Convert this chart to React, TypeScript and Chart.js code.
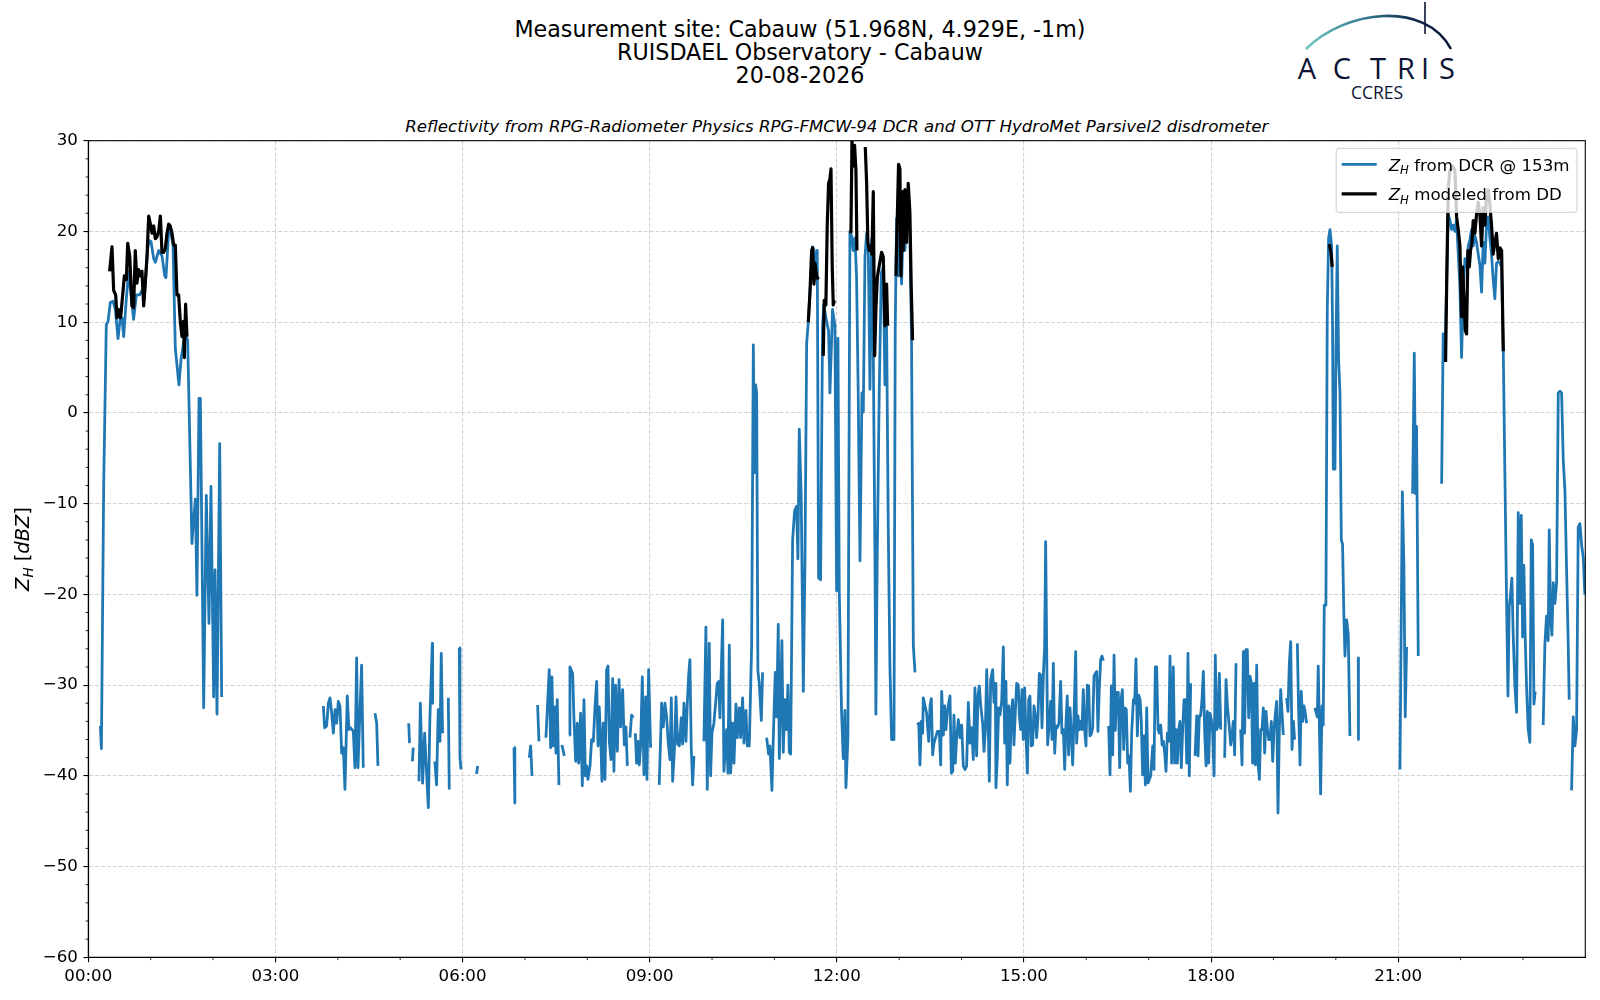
import { useEffect, useRef } from "react";
import { Chart, registerables, type Plugin } from "chart.js";

Chart.register(...registerables);

// [minute of day, dBZ]; null breaks the line
type Pt = [number, number | null];

const dcrMorning: Pt[] = [
  [11.6, -34.5], [12.6, -37.0], [14.8, -8.0], [17.3, 9.7], [19.0, 10.1], [21.2, 12.2], [23.8, 12.3],
  [26.0, 11.4], [28.6, 8.2], [30.8, 10.5], [32.4, 10.5], [34.0, 8.4], [36.6, 12.6], [38.8, 15.6],
  [41.1, 13.0], [43.6, 10.3], [46.2, 13.0], [49.4, 13.0], [51.6, 13.5], [53.9, 12.6], [57.1, 18.1],
  [58.6, 19.0], [60.3, 18.9], [62.9, 17.0], [64.5, 16.6], [67.7, 17.9], [70.9, 17.3], [73.5, 15.1],
  [74.7, 14.9], [77.3, 20.0], [78.9, 20.2], [81.5, 18.5], [83.7, 7.1], [87.2, 3.1], [89.2, 5.9],
  [91.7, 7.8], [94.3, 8.4], [95.6, 8.0], [99.7, -14.4], [100.7, -12.7], [103.0, -9.5], [104.5, -20.1],
  [106.5, 1.6], [107.8, 1.6], [111.0, -32.5], [113.5, -9.1], [116.1, -23.2], [118.0, -8.1],
  [120.6, -31.3], [121.9, -17.3], [123.8, -33.2], [126.4, -3.4], [128.3, -31.3],
];

const dcrNight: Pt[] = [
  [226.1, -32.3], [227.3, -34.7], [229.3, -34.5], [230.9, -32.0], [232.5, -31.4], [234.1, -33.1],
  [235.7, -35.3], [237.3, -32.7], [238.9, -34.2], [240.5, -31.8], [242.1, -32.3], [243.7, -37.5],
  [245.3, -36.9], [246.9, -41.5], [249.1, -31.2], [250.7, -34.9], [252.3, -34.7], [254.9, -35.1],
  [256.5, -39.1], [258.1, -27.0], [259.4, -39.1], [262.9, -27.8], [264.5, -39.1], [270, null],
  [275.8, -33.1], [277.4, -34.2], [278.6, -38.9], [290, null],
  [308.2, -34.2], [309.0, -36.4], [310, null],
  [311.7, -38.4], [312.6, -36.9], [315, null],
  [318.1, -40.6], [319.4, -32.0], [321.6, -40.8], [323.5, -35.3], [327.1, -43.5], [328.6, -33.6],
  [330.9, -25.4], [331.2, -32.0], [332, null],
  [333.4, -38.4], [335.0, -41.0], [336.6, -32.7], [338.3, -36.2], [339.5, -26.5], [340.8, -35.3], [343, null],
  [346.3, -31.4], [347.2, -41.5], [350, null],
  [356.9, -25.9], [357.5, -38.0], [358.5, -39.3], [365, null],
  [373.5, -39.8], [374.5, -38.9], [390, null],
  [409.5, -36.9], [410.3, -43.0], [415, null],
  [424.2, -38.0], [425.5, -36.7], [426.8, -40.0], [429, null],
  [432.2, -32.2], [433.5, -36.2],
];

const dcrForenoon: Pt[] = [
  [440.2, -35.8], [441.5, -32.7], [443.4, -28.3], [444.7, -36.9], [446.0, -29.1], [447.3, -36.7],
  [448.6, -32.4], [449.9, -37.5], [451.1, -31.6], [452.7, -41.0], [454, null],
  [455.6, -36.6], [457.9, -37.8], [460, null],
  [462.4, -35.5], [463.3, -28.0], [465.9, -28.7], [467.2, -33.8], [468.8, -38.4], [470.4, -34.2],
  [471.7, -38.6], [473.6, -33.1], [475.2, -41.1], [476.8, -31.6], [478.1, -40.0], [479.4, -38.9],
  [480.6, -40.4], [482.6, -38.9], [484.2, -36.0], [485.8, -36.2], [487.4, -32.4], [489.0, -29.6],
  [490.3, -36.7], [491.5, -32.4], [493.1, -36.5], [494.1, -40.6], [495.4, -34.2], [497.0, -40.4],
  [498.6, -28.3], [499.9, -27.9], [501.2, -36.2], [502.8, -38.2], [504.4, -29.3], [505.6, -39.5],
  [507.2, -30.0], [508.9, -37.3], [510.5, -29.4], [512.1, -34.6], [514.0, -30.5], [515.6, -36.6],
  [517.2, -34.6], [518.5, -38.9], [520, null],
  [521.0, -35.8], [522.6, -33.3], [524.2, -33.6], [525, null],
  [526.2, -35.3], [527.4, -38.6], [529.0, -36.2], [530.0, -38.8], [531.3, -36.7], [532.9, -29.1],
  [534.5, -39.9], [536.1, -31.3], [537.4, -40.4], [539.0, -28.3], [540.9, -36.9], [545, null],
  [549.2, -41.0], [551.5, -32.0], [553.1, -34.6], [554.7, -32.0], [556.3, -33.5], [557.9, -36.4],
  [559.5, -38.2], [560.8, -31.4], [562.1, -40.6], [564.0, -36.7], [565.3, -31.3], [566.9, -36.5],
  [568.5, -36.7], [570.4, -33.6], [571.7, -36.5], [573.0, -32.0], [574.9, -36.2], [576.2, -32.0],
  [577.5, -28.9], [578.7, -27.2], [580.0, -36.9], [581.3, -41.0], [582.6, -37.8], [587, null],
  [592.2, -36.2], [594.1, -23.6], [595.4, -41.5], [597.3, -25.4], [598.6, -40.0], [599.9, -35.3],
  [601.8, -34.2], [603.7, -31.6], [605.0, -29.8], [606.3, -29.6], [607.6, -33.6], [610.2, -22.8],
  [611.4, -39.5], [614.0, -34.9], [615.3, -39.7], [616.6, -25.6], [617.9, -39.7], [619.8, -34.2],
  [621.1, -38.6], [623.0, -32.1], [624.3, -35.8], [626.2, -32.5], [627.5, -35.8], [629.4, -31.4],
  [630.7, -36.4], [632.6, -32.8], [633.9, -36.7], [635.8, -36.7], [638.1, -25.6], [639.7, 7.5],
  [640.9, -6.6], [641.9, 3.1], [642.9, 2.2], [644.1, -28.4], [645.4, -29.8], [647.4, -33.9],
  [648.6, -28.6], [650, null],
  [652.5, -35.8], [654.4, -37.6], [655.7, -36.7], [657.6, -41.6], [659.5, -33.5], [660.8, -28.6],
  [662.1, -33.5], [663.7, -23.3], [664.7, -38.1], [667.2, -25.1], [668.5, -37.4], [670.1, -31.6],
  [671.7, -34.9], [673.0, -30.0], [674.3, -37.4], [675.6, -37.6], [677.5, -14.0], [679.4, -10.8],
  [681.3, -10.3], [682.6, -16.1], [683.9, -1.8], [685.8, -9.4], [687.8, -30.7], [689.4, -16.3],
  [691.0, 7.7], [692.9, 10.5], [694.8, 14.7], [696.7, 18.3], [698.3, 17.9], [699.9, 14.7],
  [701.2, 17.9], [702.5, -18.2], [704.4, -18.4], [706.3, 9.6], [707.6, 11.9], [709.5, 10.5],
  [712.1, 9.0], [713.4, 2.2], [715.9, 11.4], [718.2, 9.6], [719.8, -19.6], [721.1, 8.2],
  [722.4, -19.8], [724.6, -33.0], [726.2, -38.1], [727.8, -32.8], [728.8, -41.3], [730.7, -35.8],
  [732.6, 20.0], [734.2, 19.5], [735.8, 17.9], [737.4, 19.3], [739.0, 15.1], [740.6, 2.2],
  [742.3, -16.3], [744.2, 2.2], [745.5, 0.1], [747.1, 17.2], [748.7, 19.8], [750.3, 18.0],
  [751.9, 2.6], [753.5, 19.1], [755.1, 6.8], [756.7, -15.9], [757.6, -33.2], [758.9, -15.9],
  [760.8, 2.2], [762.8, 15.4], [764.7, 16.1], [766.3, 3.1], [767.9, 9.6], [769.5, -12.6],
  [771.1, -27.9], [772.7, -36.0], [775.0, -36.0], [776.2, 9.1], [777.5, 21.4], [779.1, 15.1],
  [780.7, 20.7], [782.3, 14.2], [783.9, 20.9], [785.5, 17.9], [787.1, 20.7], [788.7, 21.9],
  [790.3, 20.0], [791.9, 7.7], [793.6, -25.6], [795.2, -28.6],
];

const dcrAfternoon: Pt[] = [
  [797.5, -34.4], [798.8, -34.2], [800.0, -38.8], [801.3, -34.0], [802.6, -35.3], [803.2, -31.4],
  [806.4, -33.1], [808.4, -36.2], [809.7, -32.3], [810.9, -31.5], [812.2, -37.7], [813.5, -36.4],
  [816.8, -35.1], [818.6, -35.1], [819.9, -38.8], [820.9, -30.7], [822.5, -35.5], [823.8, -32.3],
  [825.0, -34.9], [826.3, -33.1], [827.6, -32.0], [828.9, -31.2], [830.2, -39.7], [831.5, -39.5],
  [832.7, -33.3], [834.0, -38.6], [835.3, -35.8], [836.9, -33.8], [838.5, -35.8], [840.1, -34.4],
  [841.7, -38.9], [843.3, -39.3], [844.9, -38.9], [846.5, -31.9], [848.1, -36.4], [849.7, -34.7],
  [851.3, -38.2], [852.9, -30.3], [854.5, -37.8], [855.8, -31.2], [857.1, -30.1], [858.4, -32.2],
  [860.3, -34.2], [861.6, -37.3], [862.9, -34.9], [864.2, -28.3], [865.8, -35.3], [866.7, -40.6],
  [868.0, -29.4], [869.9, -28.3], [871.2, -31.9], [872.5, -29.8], [873.1, -41.3], [874.4, -37.8],
  [875.7, -32.5], [877.0, -33.3], [878.6, -31.8], [880.2, -25.8], [881.5, -36.4], [882.7, -29.6],
  [884.0, -41.0], [885.3, -32.3], [886.6, -38.6], [887.9, -32.9], [889.2, -31.6], [890.4, -36.6],
  [891.7, -33.1], [893.0, -29.8], [894.6, -30.0], [895.6, -33.4], [896.9, -34.9], [898.1, -30.5],
  [899.4, -36.0], [900.7, -30.3], [902.0, -35.6], [903.3, -39.7], [904.6, -31.6], [905.8, -31.2],
  [907.1, -36.7], [908.4, -36.6], [909.7, -32.3], [911.0, -33.4], [912.2, -35.8], [913.5, -33.6],
  [914.8, -28.7], [916.1, -28.9], [917.4, -34.7], [918.7, -28.9], [919.9, -25.8], [920.9, -14.2],
  [921.9, -26.1], [922.8, -36.6], [924.1, -34.5], [925.7, -31.8], [927.0, -36.0], [928.3, -27.6],
  [929.6, -37.5], [930.8, -34.5], [932.1, -34.7], [933.7, -34.2], [935.3, -29.6], [936.6, -35.3],
  [937.9, -34.9], [939.2, -39.3], [940.5, -34.0], [941.7, -31.2], [943.0, -37.7], [944.3, -32.5],
  [945.6, -35.3], [946.9, -38.8], [948.2, -33.4], [949.8, -26.3], [950.7, -36.4], [952.0, -33.4],
  [953.3, -34.9], [954.6, -34.0], [955.8, -34.9], [957.1, -30.5], [958.4, -34.9], [959.7, -36.7],
  [961.0, -30.0], [962.3, -30.1], [963.5, -35.6], [964.8, -35.4], [966.1, -34.7], [967.4, -29.0],
  [968.7, -28.7], [970.0, -28.5], [971.2, -35.1], [972.5, -30.5], [973.8, -27.2], [975.1, -26.8],
  [976.4, -27.3], [979, null],
  [981.5, -34.5], [982.8, -39.9], [984.1, -30.1], [985.4, -37.7], [986.7, -26.7], [987.9, -35.0],
  [989.2, -30.8], [990.8, -30.8], [992.1, -39.1], [993.4, -31.6], [994.7, -30.5], [996.0, -37.1],
  [997.2, -32.5], [998.5, -32.7], [999.8, -38.6], [1001.1, -37.8], [1002.4, -41.7], [1003.7, -35.1],
  [1005.3, -31.6], [1006.5, -32.0], [1007.8, -27.1], [1009.1, -35.6], [1010.4, -31.1], [1011.7, -31.6],
  [1012.9, -34.0], [1014.2, -39.9], [1015.5, -35.6], [1016.8, -41.0], [1018.1, -32.5], [1019.4, -40.8],
  [1020.7, -40.4], [1021.9, -40.0], [1023.9, -36.7], [1025.1, -39.3], [1026.4, -28.0], [1027.7, -28.0],
  [1029.0, -34.9], [1030.3, -35.3], [1031.6, -34.4], [1032.9, -36.6], [1034.2, -36.2], [1035.4, -37.5],
  [1036.7, -39.5], [1038.0, -35.3], [1039.3, -36.2], [1040.5, -26.8], [1042.1, -38.6], [1043.7, -28.0],
  [1045.0, -38.6], [1046.3, -34.9], [1047.6, -38.6], [1048.9, -34.9], [1050.1, -34.0], [1051.4, -39.1],
  [1052.7, -34.9], [1054.0, -31.6], [1055.3, -31.6], [1056.6, -38.6], [1057.8, -26.5], [1059.1, -40.0],
  [1060.4, -29.8], [1062, null],
  [1064.6, -37.8], [1066.2, -33.4], [1067.5, -37.8], [1068.7, -33.4], [1070.0, -33.4], [1071.3, -31.6],
  [1072.6, -28.5], [1073.9, -35.3], [1075.2, -38.9], [1076.4, -32.9], [1077.7, -38.6], [1079.0, -33.1],
  [1080.3, -33.8], [1081.6, -35.3], [1082.9, -40.0], [1084.1, -26.7], [1085.4, -34.9], [1086.7, -34.5],
  [1088.0, -28.7], [1089.3, -34.9], [1091, null],
  [1093.1, -38.0], [1094.4, -29.4], [1095.7, -32.2], [1097.6, -34.7], [1098.9, -36.6], [1100.3, -35.3],
  [1101.4, -34.0], [1102.7, -37.7], [1104.0, -27.6], [1106, null],
  [1108.5, -34.9], [1109.8, -38.8], [1111.1, -26.3], [1112.3, -35.3], [1113.6, -26.1], [1114.9, -26.1],
  [1116.2, -33.6], [1117.5, -29.0], [1118.8, -29.8], [1120.0, -38.6], [1121.3, -29.8], [1122.6, -38.8],
  [1123.9, -27.8], [1125.2, -38.6], [1126.5, -40.4], [1127.7, -34.9], [1129.0, -34.9], [1130.3, -32.5],
  [1131.6, -37.5], [1132.9, -32.9], [1134.2, -34.9], [1135.5, -36.0], [1136.7, -36.0], [1138.0, -34.0],
  [1139.3, -38.4], [1140.6, -34.9], [1141.9, -33.1], [1143.1, -31.8], [1144.4, -44.1], [1145.7, -34.9],
  [1147.0, -30.5], [1148.3, -33.1], [1149.5, -35.5], [1151, null],
  [1152.7, -31.4], [1154.0, -32.9], [1155.3, -27.6], [1156.6, -25.2], [1157.9, -37.1], [1159.2, -34.0],
  [1160.4, -36.0], [1162, null],
  [1163.0, -25.4], [1164.3, -33.1], [1165.6, -38.8], [1166.8, -30.7], [1168.1, -34.0], [1169.4, -32.3],
  [1170.3, -32.8], [1171.9, -34.2], [1176, null],
  [1179.9, -32.5], [1182.2, -33.5], [1183.1, -27.9], [1184.1, -33.9], [1185.4, -42.0], [1186.7, -32.3],
  [1187.9, -34.4], [1188.9, -21.2], [1190.5, -21.2], [1191.8, 11.4], [1193.1, 19.3], [1194.4, 20.2],
  [1196.0, 18.4], [1196.9, 9.1], [1197.6, -6.2], [1199.2, -6.2], [1200.1, 6.8], [1201.4, 18.4],
  [1202.7, 5.9], [1204.0, 2.2], [1205.3, -14.0], [1206.5, -14.5], [1207.8, -22.4], [1208.8, -26.8],
  [1210.4, -22.8], [1212.0, -24.4], [1213.6, -35.6], [1218, null],
  [1221.6, -27.0], [1221.8, -36.0],
];

const dcrEvening: Pt[] = [
  [1261.7, -39.3], [1264.0, -8.7], [1265.5, -16.8], [1266.8, -33.5], [1268.1, -25.8], [1271, null],
  [1273.9, -8.9], [1275.5, 6.6], [1276.7, -8.9], [1277.7, -1.5], [1279.3, -26.8], [1290, null],
  [1301.8, -7.8], [1303.3, 8.7], [1305.0, 5.9], [1306.6, 14.2], [1308.2, 21.9], [1309.8, 21.2],
  [1311.4, 20.2], [1313.0, 20.7], [1314.6, 20.0], [1316.2, 21.2], [1317.8, 17.5], [1319.4, 13.8],
  [1321.0, 6.1], [1322.6, 13.3], [1324.2, 17.0], [1325.8, 16.1], [1327.4, 18.4], [1329.0, 19.1],
  [1330.6, 20.2], [1332.2, 18.4], [1333.8, 19.5], [1335.4, 18.8], [1337.0, 17.5], [1338.6, 16.3],
  [1340.2, 13.3], [1341.8, 18.8], [1343.4, 16.5], [1345.0, 20.7], [1346.6, 21.6], [1348.2, 19.3],
  [1349.8, 17.5], [1351.4, 14.7], [1353.0, 12.6], [1354.6, 16.5], [1356.3, 16.7], [1357.9, 16.5],
  [1359.5, 16.1], [1361.1, 6.8], [1362.7, -7.1], [1364.3, -21.0], [1365.6, -31.2], [1366.8, -21.4],
  [1368.1, -20.0], [1369.4, -18.2], [1370.7, -24.7], [1372.3, -30.2], [1373.9, -33.0], [1375.5, -11.0],
  [1377.1, -21.0], [1378.4, -11.3], [1379.7, -24.7], [1380.9, -16.8], [1382.2, -24.7], [1383.5, -30.2],
  [1385.1, -34.9], [1386.7, -36.3], [1388.0, -14.0], [1389.3, -14.5], [1390.6, -32.1], [1391.8, -30.7],
  [1395, null],
  [1399.5, -34.4], [1401.1, -25.6], [1402.7, -22.4], [1404.3, -25.1], [1405.3, -12.9], [1406.6, -22.6],
  [1407.9, -24.5], [1409.2, -18.7], [1410.8, -21.0], [1412.4, -18.7], [1414.0, 2.2], [1415.6, 2.4],
  [1417.2, 2.2], [1418.8, -5.2], [1420.4, -8.5], [1422.0, -17.3], [1423.6, -25.6], [1424.5, -31.6],
  [1425.5, null],
  [1426.8, -41.6], [1428.4, -33.5], [1430.0, -36.7], [1431.6, -35.0], [1433.2, -12.6], [1434.8, -12.2],
  [1436.4, -14.5], [1438.0, -15.9], [1439.6, -20.0],
];

const ddMorning: Pt[] = [
  [20.5, 15.6], [22.8, 18.3], [24.4, 13.5], [26.3, 13.0], [27.6, 10.5], [29.2, 11.4], [30.8, 10.5],
  [31.5, 11.0], [34.7, 15.1], [36.6, 14.7], [37.9, 18.7], [39.8, 17.3], [42.0, 11.8], [43.6, 11.6],
  [45.2, 17.9], [46.8, 14.3], [48.4, 15.8], [50.0, 15.1], [51.6, 15.6], [53.3, 11.8], [54.9, 14.5],
  [56.5, 17.3], [58.1, 21.7], [59.7, 20.8], [61.3, 19.8], [62.9, 20.6], [64.5, 19.2], [66.1, 19.4],
  [67.7, 20.0], [69.3, 21.7], [70.9, 17.7], [72.5, 17.7], [74.1, 18.1], [75.7, 19.8], [77.3, 20.8],
  [78.9, 20.6], [80.5, 19.8], [82.1, 18.5], [83.7, 18.5], [85.3, 13.0], [86.9, 13.0], [88.5, 10.1],
  [90.1, 8.4], [91.7, 10.1], [92.4, 6.1], [93.6, 12.0], [94.9, 8.4],
];

const ddNoon: Pt[] = [
  [692.6, 10.0], [694.2, 13.3], [695.8, 17.9], [696.7, 18.2], [698.0, 14.2], [699.0, 16.5],
  [700.6, 15.1], [702.2, 14.7], [704, null],
  [707.0, 6.3], [707.9, 12.4], [709.5, 11.9], [710.8, 20.7], [712.1, 25.3], [713.4, 25.8],
  [714.4, 26.9], [715.6, 16.1], [716.6, 11.9], [717.6, 12.4], [725, null],
  [733.6, 19.8], [734.6, 30.0], [735.8, 27.2], [737.1, 29.5], [738.4, 26.7], [739.4, 17.9], [743, null],
  [747.4, 29.3], [748.7, 25.3], [749.9, 18.8], [751.2, 17.9], [752.5, 18.4], [753.8, 17.5],
  [755.1, 24.4], [756.4, 6.3], [757.6, 11.4], [759.0, 15.0], [763.1, 17.7], [764.7, 17.2],
  [766.3, 9.6], [767.9, 14.2], [768.9, 9.6], [772, null],
  [776.9, 15.1], [778.2, 21.6], [779.4, 27.4], [780.7, 26.9], [781.7, 15.1], [783.0, 24.4],
  [783.9, 17.9], [785.5, 24.6], [787.1, 18.8], [788.7, 25.3], [790.3, 22.1], [791.6, 13.8], [792.9, 8.0],
];

const ddEvening: Pt[] = [
  [1193.7, 18.6], [1195.3, 17.7], [1196.6, 16.1], [1250, null],
  [1305.6, 5.6], [1306.9, 16.1], [1308.2, 24.9], [1309.8, 26.7], [1312.3, 27.2], [1314.6, 26.7],
  [1316.2, 21.6], [1317.8, 20.2], [1319.4, 18.4], [1321.0, 10.6], [1322.0, 16.1], [1323.2, 12.8],
  [1324.5, 9.1], [1325.8, 8.7], [1327.1, 17.9], [1328.4, 16.1], [1329.6, 17.9], [1330.9, 18.8],
  [1332.2, 21.2], [1333.8, 19.8], [1335.4, 21.9], [1337.0, 23.2], [1338.6, 21.9], [1340.2, 18.4],
  [1341.8, 22.6], [1343.4, 20.7], [1345.0, 23.9], [1346.6, 24.6], [1348.2, 23.0], [1349.8, 20.7],
  [1351.4, 17.5], [1353.0, 18.8], [1354.6, 19.8], [1356.3, 17.0], [1357.9, 18.2], [1359.5, 17.9],
  [1361.1, 6.8],
];

const xMajorTicks = [0, 180, 360, 540, 720, 900, 1080, 1260];
const xMinorTicks = [60, 120, 240, 300, 420, 480, 600, 660, 780, 840, 960, 1020, 1140, 1200, 1320, 1380];
const yMajorTicks = [-60, -50, -40, -30, -20, -10, 0, 10, 20, 30];
const yMinorTicks = [
  -58, -56, -54, -52, -48, -46, -44, -42, -38, -36, -34, -32, -28, -26, -24, -22, -18, -16,
  -14, -12, -8, -6, -4, -2, 2, 4, 6, 8, 12, 14, 16, 18, 22, 24, 26, 28,
];

const titleLines = [
  "Measurement site: Cabauw (51.968N, 4.929E, -1m)",
  "RUISDAEL Observatory - Cabauw",
  "20-08-2026",
];
const subtitle =
  "Reflectivity from RPG-Radiometer Physics RPG-FMCW-94 DCR and OTT HydroMet Parsivel2 disdrometer";
const legendLabels = [" from DCR @ 153m", " modeled from DD"];
const logoLetters: [string, number][] = [
  ["A", 1307], ["C", 1342], ["T", 1378], ["R", 1406], ["I", 1425], ["S", 1447],
];

const BLUE = "#1f77b4";
const FONT = '"DejaVu Sans"';

function joinSegments(...segs: Pt[][]) {
  const out: { x: number; y: number | null }[] = [];
  segs.forEach((s, i) => {
    if (i > 0) out.push({ x: s[0][0] - 0.3, y: null });
    s.forEach(([x, y]) => out.push({ x, y }));
  });
  return out;
}

const hhmm = (v: number) =>
  `${String(Math.floor(v / 60)).padStart(2, "0")}:${String(Math.round(v % 60)).padStart(2, "0")}`;

type Run = { t: string; it?: boolean; sub?: boolean };

// draws text runs with italic / subscript pieces (mathtext-like)
function drawRuns(ctx: CanvasRenderingContext2D, runs: Run[], x: number, y: number, size: number, measureOnly = false) {
  let cx = x;
  for (const r of runs) {
    const s = r.sub ? size * 0.7 : size;
    ctx.font = `${r.it ? "italic " : ""}${s}px ${FONT}`;
    if (!measureOnly) ctx.fillText(r.t, cx, r.sub ? y + size * 0.22 : y);
    cx += ctx.measureText(r.t).width;
  }
  return cx - x;
}

const framePlugin: Plugin<"line"> = {
  id: "mplFrame",
  afterDatasetsDraw(chart) {
    const { ctx, chartArea: a } = chart;
    const xs = chart.scales.x;
    const ys = chart.scales.y;
    ctx.save();
    ctx.strokeStyle = "#000";
    ctx.lineWidth = 0.83;
    ctx.beginPath();
    xMinorTicks.forEach((m) => {
      const px = xs.getPixelForValue(m);
      ctx.moveTo(px, a.bottom);
      ctx.lineTo(px, a.bottom + 2.78);
    });
    yMinorTicks.forEach((v) => {
      const py = ys.getPixelForValue(v);
      ctx.moveTo(a.left, py);
      ctx.lineTo(a.left - 2.78, py);
    });
    ctx.stroke();
    ctx.lineWidth = 1.1;
    ctx.strokeRect(a.left, a.top, a.right - a.left, a.bottom - a.top);

    // legend
    const fs = 16.67;
    const rows: Run[][] = legendLabels.map((l) => [{ t: "Z", it: true }, { t: "H", it: true, sub: true }, { t: l }]);
    const textW = Math.max(...rows.map((r) => drawRuns(ctx, r, 0, 0, fs, true)));
    const bw = 6.7 + 33.3 + 13.3 + textW + 6.7;
    const bh = 64;
    const bx = a.right - 8.3 - bw;
    const by = a.top + 7.7;
    ctx.beginPath();
    ctx.roundRect(bx, by, bw, bh, 3.3);
    ctx.fillStyle = "rgba(255,255,255,0.8)";
    ctx.fill();
    ctx.strokeStyle = "rgba(204,204,204,0.8)";
    ctx.lineWidth = 1.2;
    ctx.stroke();
    const colors = [BLUE, "#000"];
    rows.forEach((r, i) => {
      const cy = by + 16 + i * 29.5;
      ctx.beginPath();
      ctx.strokeStyle = colors[i];
      ctx.lineWidth = i === 0 ? 2.78 : 3.2;
      ctx.moveTo(bx + 5.5, cy);
      ctx.lineTo(bx + 5.5 + 35, cy);
      ctx.stroke();
      ctx.fillStyle = "#000";
      ctx.textBaseline = "alphabetic";
      drawRuns(ctx, r, bx + 52.5, cy + 6.4, fs);
    });

    // y axis label
    const yl: Run[] = [{ t: "Z", it: true }, { t: "H", it: true, sub: true }, { t: " [" }, { t: "dBZ", it: true }, { t: "]" }];
    const ls = 19.44;
    const lw = drawRuns(ctx, yl, 0, 0, ls, true);
    ctx.translate(29, (a.top + a.bottom) / 2);
    ctx.rotate(-Math.PI / 2);
    ctx.fillStyle = "#000";
    drawRuns(ctx, yl, -lw / 2, 0, ls);
    ctx.restore();
  },
};

export default function App() {
  const ref = useRef<HTMLCanvasElement>(null);

  useEffect(() => {
    if (!ref.current) return;
    const tickFont = { family: FONT, size: 16.67 };
    const grid = {
      color: "#d3d3d3",
      lineWidth: 1.1,
      tickLength: 4.86,
      tickColor: "#000",
      tickWidth: 1.1,
      tickBorderDash: [],
    };
    const border = { display: true, color: "#000", width: 1.1, dash: [4.1, 1.8] };
    const chart = new Chart(ref.current, {
      type: "line",
      data: {
        datasets: [
          {
            label: "DCR",
            data: joinSegments(dcrMorning, dcrNight, dcrForenoon, dcrAfternoon, dcrEvening),
            borderColor: BLUE,
            borderWidth: 2.78,
            borderJoinStyle: "round",
            pointRadius: 0,
            tension: 0,
            spanGaps: false,
            clip: 0,
            order: 2,
          },
          {
            label: "DD",
            data: joinSegments(ddMorning, ddNoon, ddEvening),
            borderColor: "#000",
            borderWidth: 3.2,
            borderJoinStyle: "round",
            pointRadius: 0,
            tension: 0,
            spanGaps: false,
            clip: 0,
            order: 1,
          },
        ],
      },
      options: {
        responsive: true,
        maintainAspectRatio: false,
        animation: false,
        events: [],
        layout: { padding: { left: 0, top: 140.7, right: 14.7, bottom: 0 } },
        plugins: { legend: { display: false }, tooltip: { enabled: false } },
        scales: {
          x: {
            type: "linear",
            min: 0,
            max: 1440,
            afterBuildTicks: (s) => {
              s.ticks = xMajorTicks.map((value) => ({ value }));
            },
            afterFit: (s) => {
              s.height = 42.7;
            },
            grid,
            border,
            ticks: {
              color: "#000",
              font: tickFont,
              padding: 5,
              maxRotation: 0,
              autoSkip: false,
              callback: (v) => hhmm(Number(v)),
            },
          },
          y: {
            type: "linear",
            min: -60,
            max: 30,
            afterBuildTicks: (s) => {
              s.ticks = yMajorTicks.map((value) => ({ value }));
            },
            afterFit: (s) => {
              s.width = 88.3;
            },
            grid,
            border,
            ticks: {
              color: "#000",
              font: tickFont,
              padding: 5.5,
              autoSkip: false,
              callback: (v) => {
                const n = Number(v);
                return n < 0 ? "\u2212" + Math.abs(n) : String(n);
              },
            },
          },
        },
      },
      plugins: [framePlugin],
    });
    return () => {
      chart.destroy();
    };
  }, []);

  return (
    <div style={{ position: "absolute", left: 0, top: 0, width: 1600, height: 1000, background: "#fff" }}>
      <div
        style={{
          position: "absolute",
          left: 0,
          top: 17.5,
          width: 1600,
          textAlign: "center",
          font: `22.2px/23px ${FONT}`,
          color: "#000",
          whiteSpace: "nowrap",
        }}
      >
        {titleLines.map((l) => (
          <div key={l}>{l}</div>
        ))}
      </div>
      <div
        style={{
          position: "absolute",
          left: 88.3,
          top: 116.5,
          width: 1497,
          textAlign: "center",
          font: `italic 16.67px/20px ${FONT}`,
          color: "#000",
          whiteSpace: "nowrap",
        }}
      >
        {subtitle}
      </div>
      <svg
        width={220}
        height={110}
        viewBox="1280 0 220 110"
        style={{ position: "absolute", left: 1280, top: 0 }}
      >
        <defs>
          <linearGradient id="arcGrad" gradientUnits="userSpaceOnUse" x1={1306} y1={0} x2={1451} y2={0}>
            <stop offset="0" stopColor="#72c6c1" />
            <stop offset="0.45" stopColor="#2a6f86" />
            <stop offset="0.75" stopColor="#12284f" />
            <stop offset="1" stopColor="#0b1435" />
          </linearGradient>
        </defs>
        <path d="M1306 49 C1345 10 1425 0 1451 49" stroke="url(#arcGrad)" strokeWidth={2.6} fill="none" />
        <line x1={1425} y1={2} x2={1425} y2={34} stroke="#0b1435" strokeWidth={1.6} />
        {logoLetters.map(([ch, x]) => (
          <text
            key={ch + x}
            x={x}
            y={78.5}
            textAnchor="middle"
            fill="#0b1435"
            style={{ font: '500 29px "Open Sans"' }}
          >
            {ch}
          </text>
        ))}
        <text x={1377} y={99} textAnchor="middle" fill="#0b1435" style={{ font: '17.5px "Open Sans"' }}>
          CCRES
        </text>
      </svg>
      <div style={{ position: "absolute", left: 0, top: 0, width: 1600, height: 1000 }}>
        <canvas ref={ref} />
      </div>
    </div>
  );
}
